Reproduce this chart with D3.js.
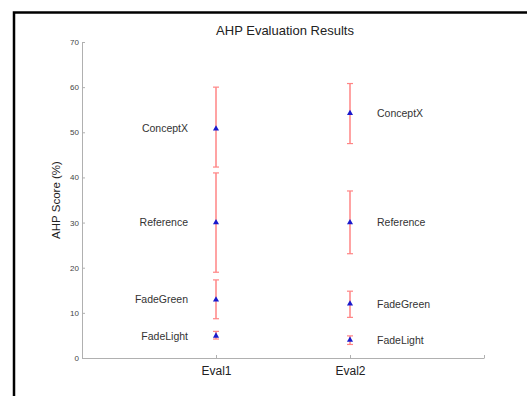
<!DOCTYPE html>
<html>
<head>
<meta charset="utf-8">
<script src="https://cdn.jsdelivr.net/npm/d3@7"></script>
<style>
  body { margin: 0; background: #fff; }
  svg { font-family: "Liberation Sans", Arial, sans-serif; }
</style>
</head>
<body>
<svg id="chart" width="527" height="396"></svg>
<script>
// values
const evals = ["Eval1", "Eval2"];
const designs = ["ConceptX", "Reference", "FadeGreen", "FadeLight"];
const means = [
  [50.8, 30.0, 12.9, 4.9],
  [54.2, 30.0, 12.0, 4.0]
];
const upper = [
  [60.0, 41.0, 17.3, 5.9],
  [60.8, 37.0, 14.8, 4.9]
];
const lower = [
  [42.3, 19.0, 8.7, 4.2],
  [47.5, 23.1, 9.0, 3.0]
];
const yTicks = [0, 10, 20, 30, 40, 50, 60, 70];

const svg = d3.select('#chart');
const margin = {left: 82, right: 43, top: 42, bottom: 38};
const width = +svg.attr('width');
const height = +svg.attr('height');

// figure frame (only top and left edges are visible)
svg.append('path')
    .attr('d', 'M14,396 V12.5 H527')
    .attr('fill', 'none')
    .attr('stroke', '#000')
    .attr('stroke-width', 2.5);

const x = d3.scaleLinear().domain([0, 3]).range([margin.left, width - margin.right]);
const y = d3.scaleLinear().domain([0, 70]).range([height - margin.bottom, margin.top]);

// y axis, ticks pointing inward like matlab
const yAxis = svg.append('g')
    .attr('transform', `translate(${margin.left},0)`)
    .call(d3.axisRight(y).tickValues(yTicks).tickSize(3).tickSizeOuter(0));
yAxis.select('.domain').attr('stroke', '#b0b0b0');
yAxis.selectAll('.tick line').attr('stroke', '#b0b0b0');
yAxis.selectAll('.tick text')
    .attr('x', -3)
    .attr('text-anchor', 'end')
    .attr('fill', '#444')
    .style('font-size', '8px');

// x axis
const xAxis = svg.append('g')
    .attr('transform', `translate(0,${y(0)})`)
    .call(d3.axisTop(x).tickValues([0, 1, 2, 3]).tickSize(3).tickSizeOuter(0)
        .tickFormat(d => evals[d - 1] || ''));
xAxis.select('.domain').attr('stroke', '#b0b0b0');
xAxis.selectAll('.tick line').attr('stroke', '#b0b0b0');
xAxis.selectAll('.tick text')
    .attr('y', 13)
    .attr('dy', '0.35em')
    .attr('fill', '#222')
    .style('font-size', '12px');

// title
svg.append('text')
    .attr('x', 285)
    .attr('y', 30)
    .attr('dy', '0.35em')
    .attr('text-anchor', 'middle')
    .attr('fill', '#222')
    .style('font-size', '13px')
    .text('AHP Evaluation Results');

// y label
svg.append('text')
    .attr('transform', 'translate(56,200) rotate(-90)')
    .attr('dy', '0.35em')
    .attr('text-anchor', 'middle')
    .attr('fill', '#222')
    .style('font-size', '11.5px')
    .text('AHP Score (%)');

// error bars + markers + labels
const red = '#ff8585';
evals.forEach((ev, i) => {
  const cx = x(i + 1);
  const g = svg.append('g').attr('class', 'series');
  designs.forEach((name, j) => {
    const top = y(upper[i][j]);
    const bot = y(lower[i][j]);
    g.append('line')
        .attr('x1', cx).attr('x2', cx)
        .attr('y1', top).attr('y2', bot)
        .attr('stroke', red).attr('stroke-width', 1.5);
    [top, bot].forEach(yy => {
      g.append('line')
          .attr('x1', cx - 3).attr('x2', cx + 3)
          .attr('y1', yy).attr('y2', yy)
          .attr('stroke', red).attr('stroke-width', 1.2);
    });
    g.append('path')
        .attr('d', d3.symbol(d3.symbolTriangle, 16)())
        .attr('transform', `translate(${cx},${y(means[i][j])})`)
        .attr('fill', '#1a1acc');
    g.append('text')
        .attr('x', i === 0 ? cx - 28 : cx + 27)
        .attr('y', y(means[i][j]))
        .attr('dy', '0.35em')
        .attr('text-anchor', i === 0 ? 'end' : 'start')
        .attr('fill', '#333')
        .style('font-size', '10.5px')
        .text(name);
  });
});
</script>
</body>
</html>
